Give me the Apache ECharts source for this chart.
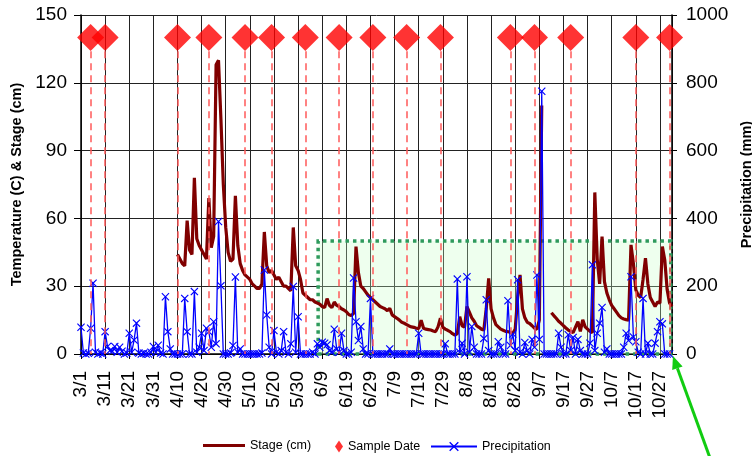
<!DOCTYPE html>
<html><head><meta charset="utf-8">
<script src="https://cdn.jsdelivr.net/npm/echarts@6/dist/echarts.min.js"></script>
<style>html,body{margin:0;padding:0;background:#fff}#c{width:752px;height:456px}</style>
</head><body><div id="c"></div>
<script>
// x axis: day index from 3/1 (day 0) to 11/1 (day 245)
const xTickLabels = ['3/1','3/11','3/21','3/31','4/10','4/20','4/30','5/10','5/20','5/30','6/9','6/19','6/29','7/9','7/19','7/29','8/8','8/18','8/28','9/7','9/17','9/27','10/7','10/17','10/27'];
const leftTickLabels = ['0','30','60','90','120','150'];
const rightTickLabels = ['0','200','400','600','800','1000'];

// Sample dates (day index) and their plotting level (left axis)
const sampleDays = [4,10,40,53,68,79,93,107,121,135,149,178,188,203,230,244];
const sampleLevel = [140,140,140,140,140,140,140,140,140,140,140,140,140,140,140,140];

// Stage (cm), daily, starting 4/10 (day 40)
const stageStartDay = 40;
const stageApr = [44,42,40,39,59,46,44,78,51,48,46,44,42,69,47,52,128,130,104,75,56];
const stageMay = [45,41,42,70,48,40,37,35,34,33,31,30,29,29,31,54,39,36,37,35,33,34,32,30,30,29,28,56,39,37,33];
const stageJun = [27,26,25,24,24,23,22.5,22,21,20.5,24.5,21.5,20.5,23,21.5,21,20,19.5,18.7,17.5,17,18,47.5,36,30,29,27.5,26,25,24];
const stageJul = [23,22,21,20.5,20,19.2,20.2,17.3,16.5,15.8,15,14,13.6,13,12.4,12,11.8,11.4,11.2,15,11.4,11,10.8,10.6,10.2,9.9,12,15.8,11.8,11,10.5];
const stageAug = [9.9,9,8.4,9,16.5,12.5,11.9,21,18.5,16,14.5,12.5,11.8,11,10.6,20,33.5,20,16,13,12,11,10.5,10,9.9,9.5,9.1,11,25,35,20];
const stageSep = [16,14,13.5,12.5,11.4,11,15,110,null,null,null,18.3,17,15.8,14.5,13.6,12.5,11.5,10.6,10,9.5,11.9,14.3,10,15.1,12,11,10,9.5,71.5];
const stageOct = [42,31,52,32,27,24,21.5,20,18.5,17,16,15.5,15.2,15,48.3,40,28.4,26,25,33,42.4,31,25,23,21,23,22.5,47.5,41.6,28.4,22.5];
const stageNov = [21];

// Precipitation (mm), daily, starting 3/1 (day 0)
const precipMar = [79,3,0,2,76,209,5,0,3,0,66,22,10,8,22,5,20,8,0,3,61,5,41,91,3,0,2,0,0,5,22];
const precipApr = [5,26,3,0,169,66,15,0,0,0,0,0,164,66,0,0,184,5,20,61,10,76,66,20,95,30,391,201,0,0];
const precipMay = [0,3,25,227,5,15,0,0,0,0,0,0,0,0,3,248,115,20,0,69,5,0,10,66,5,0,30,199,5,110,0];
const precipJun = [0,0,0,0,5,0,30,20,35,32,27,10,5,73,15,5,61,10,0,0,5,224,95,40,81,15,0,0,164,0];
const precipJul = [0,0,0,0,0,0,15,0,0,0,0,0,0,0,0,0,0,0,61,0,0,0,0,0,0,0,0,0,0,30,0];
const precipAug = [0,0,0,221,5,32,0,228,5,81,20,0,0,0,46,160,10,0,0,0,36,20,0,0,157,25,59,10,219,5,0];
const precipSep = [34,10,0,43,20,233,43,775,0,0,0,0,0,0,61,20,0,0,57,10,49,0,43,10,0,0,0,32,263,10];
const precipOct = [61,91,137,5,15,0,0,0,0,0,0,20,61,40,228,50,36,5,0,164,0,32,0,0,32,66,95,89,0,0,0];

// Highlighted period (left-axis units)
const highlightStartDay = 98.3, highlightEndDay = 244.5, highlightTop = 50;

const stageAll = [].concat(stageApr, stageMay, stageJun, stageJul, stageAug, stageSep, stageOct, stageNov);
const stageData = stageAll.map((v, i) => [stageStartDay + i, v]);
const precipAll = [].concat(precipMar, precipApr, precipMay, precipJun, precipJul, precipAug, precipSep, precipOct);
const precipData = precipAll.map((v, i) => [i, v]);
const sampleData = sampleDays.map((d, i) => [d, sampleLevel[i]]);

const FONT = 'Liberation Sans, Arial, sans-serif';
const XSYM = 'path://M0,1L1,0L5,4L9,0L10,1L6,5L10,9L9,10L5,6L1,10L0,9L4,5Z';

const chart = echarts.init(document.getElementById('c'), null, {renderer: 'canvas'});
chart.setOption({
  animation: false,
  backgroundColor: '#fff',
  textStyle: {fontFamily: FONT, color: '#000'},
  grid: {left: 81, right: 80, top: 15, bottom: 102, containLabel: false, outerBoundsMode: 'none'},
  legend: [
    {data: [{name: 'Stage (cm)', icon: 'rect'}], left: 198, top: 434, itemWidth: 42, itemHeight: 3, itemGap: 4,
     textStyle: {fontFamily: FONT, fontSize: 12.5, color: '#000'}},
    {data: [{name: 'Sample Date', icon: 'diamond'}], left: 330, top: 435, itemWidth: 8, itemHeight: 12,
     textStyle: {fontFamily: FONT, fontSize: 12.5, color: '#000'}},
    {data: ['Precipitation'], left: 425, top: 435, itemWidth: 46, itemHeight: 12,
     textStyle: {fontFamily: FONT, fontSize: 12.5, color: '#000'}}
  ],
  xAxis: {
    type: 'value', min: 0, max: 245, interval: 10,
    axisLine: {show: true, onZero: false, lineStyle: {color: '#000', width: 1.5}},
    axisTick: {show: true, length: 5, lineStyle: {color: '#000'}},
    splitLine: {show: true, lineStyle: {color: '#222', width: 1}},
    axisLabel: {
      rotate: 90, margin: 17, fontSize: 19, fontFamily: FONT, color: '#000',
      showMaxLabel: false,
      formatter: v => (v % 10 === 0 && xTickLabels[v / 10] !== undefined) ? xTickLabels[v / 10] : ''
    }
  },
  yAxis: [
    {
      type: 'value', min: 0, max: 150, interval: 30, position: 'left',
      name: 'Temperature (C) & Stage (cm)', nameLocation: 'middle', nameRotate: 90, nameGap: 57,
      nameTextStyle: {fontFamily: FONT, fontSize: 14.5, fontWeight: 'bold', color: '#000'},
      axisLine: {show: true, lineStyle: {color: '#000', width: 1.5}},
      axisTick: {show: true, length: 7, lineStyle: {color: '#000'}},
      splitLine: {show: true, lineStyle: {color: '#222', width: 1}},
      axisLabel: {fontSize: 19, fontFamily: FONT, color: '#000', margin: 14,
        formatter: v => leftTickLabels[Math.round(v / 30)]}
    },
    {
      type: 'value', min: 0, max: 1000, interval: 200, position: 'right',
      name: 'Precipitation (mm)', nameLocation: 'middle', nameRotate: 90, nameGap: 58,
      nameTextStyle: {fontFamily: FONT, fontSize: 14.5, fontWeight: 'bold', color: '#000'},
      axisLine: {show: true, lineStyle: {color: '#000', width: 1.5}},
      axisTick: {show: true, length: 5, lineStyle: {color: '#000'}},
      splitLine: {show: false},
      axisLabel: {fontSize: 19, fontFamily: FONT, color: '#000', margin: 14,
        formatter: v => rightTickLabels[Math.round(v / 200)]}
    }
  ],
  series: [
    {
      name: 'Sample Date', type: 'scatter', yAxisIndex: 0, z: 1,
      symbol: 'diamond', symbolSize: 27,
      itemStyle: {color: '#ff0000'},
      data: sampleData,
      markLine: {
        silent: true, symbol: ['none', 'none'], label: {show: false},
        lineStyle: {color: '#ff5a5a', width: 1.5, type: [7, 5]},
        data: sampleDays.map(d => [{coord: [d, 134]}, {coord: [d, 0]}])
      }
    },
    {
      name: 'Stage (cm)', type: 'line', yAxisIndex: 0, z: 3,
      data: stageData, symbol: 'none', connectNulls: false,
      lineStyle: {color: '#800000', width: 3.2},
      itemStyle: {color: '#800000'}
    },
    {
      name: 'Precipitation', type: 'line', yAxisIndex: 1, z: 4,
      data: precipData, symbol: XSYM, symbolSize: 8, showSymbol: true,
      lineStyle: {color: '#0000ff', width: 1.3},
      itemStyle: {color: '#0000ff'}
    },
    {
      name: 'highlight', type: 'line', yAxisIndex: 0, z: 8, data: [], silent: true,
      markArea: {
        silent: true,
        itemStyle: {color: 'rgba(200,255,200,0.3)', borderColor: '#2e9a5c', borderWidth: 3.5, borderType: [3.5, 4]},
        data: [[{coord: [highlightStartDay, 0]}, {coord: [highlightEndDay, highlightTop]}]]
      }
    }
  ],
  graphic: [
    {type: 'line', z: 100, shape: {x1: 710, y1: 458, x2: 677.4, y2: 368.2}, style: {stroke: '#11cc11', lineWidth: 3}},
    {type: 'polygon', z: 100, shape: {points: [[673, 356], [682.6, 366.4], [672.2, 370.1]]}, style: {fill: '#11cc11'}}
  ]
});
</script>
</body></html>
